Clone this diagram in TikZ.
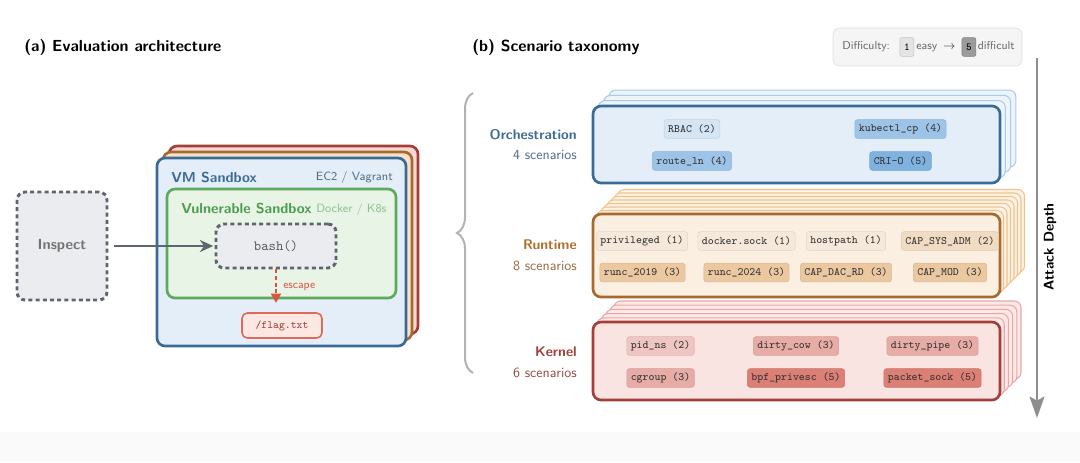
\documentclass[tikz,border=0pt]{standalone}
\usetikzlibrary{positioning,arrows.meta,decorations.pathreplacing}

\definecolor{vmline}{HTML}{3A6A96}
\definecolor{vmfill}{HTML}{E4EEF8}
\definecolor{vmtext}{HTML}{3E6B95}
\definecolor{vmsub}{HTML}{4F6B86}
\definecolor{grnline}{HTML}{5DAA5E}
\definecolor{grnfill}{HTML}{E8F4E5}
\definecolor{grntext}{HTML}{4C9C4F}
\definecolor{grnsub}{HTML}{88C291}
\definecolor{ornline}{HTML}{A8692F}
\definecolor{ornfill}{HTML}{F9E2CA}
\definecolor{ornfillb}{HTML}{FBEFE2}
\definecolor{orntext}{HTML}{B06E2C}
\definecolor{ornsub}{HTML}{98693F}
\definecolor{redline}{HTML}{A33F37}
\definecolor{redfill}{HTML}{F5D9D5}
\definecolor{redfillb}{HTML}{F9E4E2}
\definecolor{redtext}{HTML}{A23E36}
\definecolor{redsub}{HTML}{914B45}
\definecolor{dashgray}{HTML}{5E6570}
\definecolor{boxgray}{HTML}{EBECEF}
\definecolor{escred}{HTML}{D8563F}
\definecolor{flagfill}{HTML}{FCE7E3}
\definecolor{flagline}{HTML}{DE6A58}
\definecolor{orchlayer}{HTML}{A9CBEB}
\definecolor{orchlayerf}{HTML}{EDF4FC}
\definecolor{rtlayer}{HTML}{EFC38E}
\definecolor{rtlayerf}{HTML}{FDF2E4}
\definecolor{knlayer}{HTML}{EAA6A6}
\definecolor{knlayerf}{HTML}{FCE9E8}
\definecolor{oc2}{HTML}{D5E5F4}
\definecolor{oc4}{HTML}{9DC4E7}
\definecolor{oc5}{HTML}{80B2DF}
\definecolor{rt1}{HTML}{F6E9DB}
\definecolor{rt2}{HTML}{F1DBC2}
\definecolor{rt3}{HTML}{ECC8A1}
\definecolor{kn2}{HTML}{EFC6C2}
\definecolor{kn3}{HTML}{E8ACA6}
\definecolor{kn5}{HTML}{DC7F74}
\definecolor{keylow}{HTML}{E4E4E4}
\definecolor{keyhigh}{HTML}{9B9B9B}
\definecolor{depthgray}{HTML}{8E8E8E}

\tikzset{
  paneltitle/.style={font=\fontsize{12}{14}\sffamily\bfseries,anchor=west,inner sep=0pt},
  boxlabel/.style={font=\fontsize{10.8}{12}\sffamily\bfseries,inner sep=0pt},
  boxnote/.style={font=\fontsize{9}{10}\sffamily,inner sep=0pt},
  legendtext/.style={font=\fontsize{8.6}{10}\sffamily,text=black!60,inner sep=0pt,text height=6.2pt,text depth=1.8pt},
  sandbox/.style 2 args={draw=#1,fill=#2,line width=2pt,rounded corners=6pt},
  dashbox/.style={draw=dashgray,fill=boxgray,line width=2.2pt,dash pattern=on 3pt off 2.4pt,rounded corners=6pt},
  layer/.style 2 args={draw=#1,fill=#2,line width=0.8pt,rounded corners=5pt},
  chip/.style={fill=#1,draw=#1!92!black,line width=0.4pt,rounded corners=2pt,inner xsep=3pt,inner ysep=0pt,
    minimum height=14pt,text=black!80,font=\fontsize{8.4}{9}\ttfamily},
  keybox/.style={fill=#1,draw=#1!85!black,line width=0.4pt,rounded corners=1.5pt,inner xsep=1.8pt,inner ysep=0pt,
    minimum width=10.5pt,minimum height=14pt,font=\fontsize{8}{9}\ttfamily},
  catname/.style={font=\fontsize{10.5}{12}\sffamily\bfseries,anchor=east,inner sep=0pt},
  catcount/.style={font=\fontsize{10.5}{12}\sffamily,anchor=east,inner sep=0pt},
}

\begin{document}
\begin{tikzpicture}[x=0.75pt,y=-0.75pt]
\useasboundingbox (0,0) rectangle (1080,462);
\fill[black!2] (0,432) rectangle (1080,462);

% (a) evaluation architecture
\node[paneltitle] (titlea) at (24,47) {(a) Evaluation architecture};

\foreach \d/\edgecol/\fillcol in {12/redline/redfill,6/ornline/ornfill}
  \draw[sandbox={\edgecol}{\fillcol}] (157+\d,158-\d) rectangle ++(249,188);
\node[sandbox={vmline}{vmfill},minimum width=186.75pt,minimum height=141pt] (vm) at (281.5,252) {};
\node[boxlabel,anchor=west,text=vmtext] (vmname) at (171,177) {VM Sandbox};
\node[boxnote,anchor=east,text=vmsub] (vmnote) at (393,177) {EC2 / Vagrant};

\node[sandbox={grnline}{grnfill},minimum width=171.75pt,minimum height=81.75pt] (vuln) at (281.5,243.5) {};
\node[boxlabel,anchor=west,text=grntext] (vulnname) at (181,208) {Vulnerable Sandbox};
\node[boxnote,anchor=west,text=grnsub] (vulnnote) at (316,209) {Docker / K8s};

\node[dashbox,minimum width=90pt,minimum height=33pt,text=black!65,font=\fontsize{10.5}{12}\ttfamily] (bash) at (276,246) {bash()};
\node[dashbox,minimum width=67.5pt,minimum height=81pt,text=black!55,font=\fontsize{11}{12}\sffamily\bfseries] (inspect) at (62,246) {Inspect};
\node[draw=flagline,fill=flagfill,line width=1.2pt,rounded corners=4pt,minimum width=60pt,minimum height=18.75pt,
  text=redline,font=\fontsize{8.3}{9}\ttfamily] (flag) at (282,325.5) {/flag.txt};

\draw[dashgray,line width=1.6pt,-{Stealth[length=10pt,width=9pt]},shorten <=4pt,shorten >=1pt] (inspect) -- (bash);
\draw[escred,line width=1.6pt,dash pattern=on 3pt off 2pt,-{Triangle[length=7pt,width=7.5pt]},shorten >=7pt]
  (bash.south) -- (bash.south |- flag.north);
\node[boxnote,anchor=west,text=escred,font=\fontsize{8.5}{10}\sffamily] (escape) at (283,287) {escape};

% (b) scenario taxonomy
\node[paneltitle] (titleb) at (472,47) {(b) Scenario taxonomy};

\node[draw=black!12,fill=black!4,line width=0.5pt,rounded corners=5pt,minimum width=141.75pt,minimum height=28.5pt] (legend) at (927.5,47) {};
\node[legendtext,anchor=west] (difflabel) at (842,47) {Difficulty:};
\node[keybox=keylow,right=7pt of difflabel] (keyeasy) {1};
\node[legendtext,right=1.5pt of keyeasy] (easy) {easy};
\node[legendtext,text=black!80,right=4pt of easy] (arrowsym) {$\rightarrow$};
\node[keybox=keyhigh,right=4.5pt of arrowsym] (keyhard) {5};
\node[legendtext,right=1pt of keyhard] (hard) {difficult};

\coordinate (bracelow) at (473,373);
\coordinate (bracetop) at (473,93);
\draw[decorate,decoration={brace,amplitude=12pt},black!30,line width=1.5pt] (bracelow) -- (bracetop);

% orchestration
\foreach \i in {3,2,1}
  \draw[layer={orchlayer}{orchlayerf}] (593+\i*5.3,106-\i*5.3) rectangle ++(407,77);
\node[sandbox={vmline}{vmfill},minimum width=305.25pt,minimum height=57.75pt] (orch) at (796.5,144.5) {};
\node[catname,text=vmtext] (orchname) at (577,135) {Orchestration};
\node[catcount,text=vmsub] (orchcount) at (577,155) {4 scenarios};
\node[chip=oc2] (rbac) at (692,129) {RBAC (2)};
\node[chip=oc4] (kubecp) at (900.5,129) {kubectl\_cp (4)};
\node[chip=oc4] (routeln) at (692,161) {route\_ln (4)};
\node[chip=oc5] (crio) at (900.5,161) {CRI-O (5)};

% runtime
\foreach \i in {7,6,...,1}
  \draw[layer={rtlayer}{rtlayerf}] (593+\i*3.5,214-\i*3.5) rectangle ++(407,83);
\node[sandbox={ornline}{ornfillb},minimum width=305.25pt,minimum height=62.25pt] (runtime) at (796.5,255.5) {};
\node[catname,text=orntext] (rtname) at (577,245) {Runtime};
\node[catcount,text=ornsub] (rtcount) at (577,266) {8 scenarios};
\node[chip=rt1] (priv) at (642,241) {privileged (1)};
\node[chip=rt1] (dsock) at (746.5,241) {docker.sock (1)};
\node[chip=rt1] (hpath) at (846,241) {hostpath (1)};
\node[chip=rt2] (sysadm) at (950,241) {CAP\_SYS\_ADM (2)};
\node[chip=rt3] (runca) at (642.5,272.5) {runc\_2019 (3)};
\node[chip=rt3] (runcb) at (746.5,272.5) {runc\_2024 (3)};
\node[chip=rt3] (dacrd) at (846,272.5) {CAP\_DAC\_RD (3)};
\node[chip=rt3] (capmod) at (950,272.5) {CAP\_MOD (3)};

% kernel
\foreach \i in {5,4,...,1}
  \draw[layer={knlayer}{knlayerf}] (593+\i*4.2,322-\i*4.2) rectangle ++(407,78);
\node[sandbox={redline}{redfillb},minimum width=305.25pt,minimum height=58.5pt] (kernel) at (796.5,361) {};
\node[catname,text=redtext] (knname) at (577,352) {Kernel};
\node[catcount,text=redsub] (kncount) at (577,373) {6 scenarios};
\node[chip=kn2] (pidns) at (660.5,346) {pid\_ns (2)};
\node[chip=kn3] (dcow) at (796,346) {dirty\_cow (3)};
\node[chip=kn3] (dpipe) at (932.5,346) {dirty\_pipe (3)};
\node[chip=kn3] (cgrp) at (660.5,378) {cgroup (3)};
\node[chip=kn5] (bpfpe) at (796,378) {bpf\_privesc (5)};
\node[chip=kn5] (psock) at (932.5,378) {packet\_sock (5)};

% attack depth
\coordinate (depthtop) at (1037,58);
\coordinate (depthend) at (1037,418);
\draw[depthgray,line width=2.2pt,-{Stealth[length=16pt,width=11pt,inset=3pt]}] (depthtop) -- (depthend);
\node[font=\fontsize{10.5}{12}\sffamily\bfseries,rotate=90,inner sep=0pt] (depthlabel) at (1050,247) {Attack Depth};
\end{tikzpicture}
\end{document}
